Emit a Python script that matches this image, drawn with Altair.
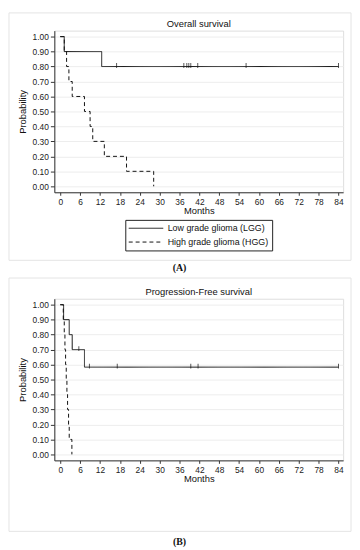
import altair as alt
import pandas as pd

# ---------------- data ----------------
groups = ["Low grade glioma (LGG)", "High grade glioma (HGG)"]

# (A) Overall survival
os_lgg_months = [0, 1.2, 12.5, 84]
os_lgg_surv = [1.0, 0.9, 0.8, 0.8]
os_lgg_cens_months = [17.0, 37.3, 38.2, 38.8, 39.4, 41.5, 56.1, 84.0]
os_lgg_cens_surv = [0.8, 0.8, 0.8, 0.8, 0.8, 0.8, 0.8, 0.8]
os_hgg_months = [0, 1.2, 1.9, 2.6, 3.6, 7.3, 9.0, 9.8, 13.3, 20.0, 28.2]
os_hgg_surv = [1.0, 0.9, 0.8, 0.7, 0.6, 0.5, 0.4, 0.3, 0.2, 0.1, 0.0]

# (B) Progression-free survival
pfs_lgg_months = [0, 1.0, 2.7, 3.6, 7.3, 84]
pfs_lgg_surv = [1.0, 0.9, 0.8, 0.7, 0.583, 0.583]
pfs_lgg_cens_months = [5.6, 8.8, 17.2, 39.4, 41.6, 84.0]
pfs_lgg_cens_surv = [0.7, 0.583, 0.583, 0.583, 0.583, 0.583]
pfs_hgg_months = [0, 0.9, 1.2, 1.4, 1.6, 1.8, 2.0, 2.2, 2.5, 2.7, 3.5]
pfs_hgg_surv = [1.0, 0.9, 0.8, 0.7, 0.6, 0.5, 0.4, 0.3, 0.2, 0.1, 0.0]

x_ticks = list(range(0, 85, 6))
y_ticks = [round(i / 10, 1) for i in range(0, 11)]

FONT = "Liberation Sans"
W, H = 293, 164


def curves(lgg_m, lgg_s, hgg_m, hgg_s):
    a = pd.DataFrame({"Months": lgg_m, "Probability": lgg_s, "group": groups[0]})
    b = pd.DataFrame({"Months": hgg_m, "Probability": hgg_s, "group": groups[1]})
    return pd.concat([a, b], ignore_index=True)


def panel(title, letter, lgg_m, lgg_s, cm, cs, hgg_m, hgg_s, leg_y, letter_y,
          frame_y, frame_y2):
    df = curves(lgg_m, lgg_s, hgg_m, hgg_s)
    cens = pd.DataFrame({"Months": cm, "Probability": cs})

    xs = alt.X("Months:Q",
               scale=alt.Scale(domain=[-1.8, 85.4], nice=False, zero=False),
               axis=alt.Axis(values=x_ticks, grid=False, title="Months",
                             labelOverlap=False, labelFlush=False,
                             labelFont=FONT, labelFontSize=8.5, labelColor="#222",
                             titleFont=FONT, titleFontSize=9.5, titleFontWeight="normal",
                             titleColor="#111", titlePadding=0, labelPadding=2,
                             tickSize=3, tickColor="#333", domainColor="#333"))
    ys = alt.Y("Probability:Q",
               scale=alt.Scale(domain=[-0.04, 1.04], nice=False, zero=False),
               axis=alt.Axis(values=y_ticks, format=".2f", title="Probability",
                             grid=True, gridColor="#ededed",
                             labelOverlap=False, labelFlush=False,
                             labelFont=FONT, labelFontSize=8.5, labelColor="#222",
                             titleFont=FONT, titleFontSize=9.5, titleFontWeight="normal",
                             titleColor="#111", titlePadding=5, labelPadding=2,
                             tickSize=4, tickColor="#333", domainColor="#333"))

    lines = alt.Chart(df).mark_line(interpolate="step-after", color="#111",
                                    strokeWidth=1).encode(
        x=xs, y=ys,
        strokeDash=alt.StrokeDash(
            "group:N",
            scale=alt.Scale(domain=groups, range=[[1, 0], [4, 3]]),
            legend=alt.Legend(title=None, orient="none", legendX=72, legendY=leg_y,
                              direction="vertical", symbolType="M-1,0H6",
                              symbolStrokeColor="#111", symbolStrokeWidth=1,
                              symbolSize=100, labelFont=FONT, labelFontSize=9,
                              labelColor="#111", strokeColor="#222", padding=3,
                              rowPadding=3, labelOffset=29)),
        detail="group:N",
    )
    ticks = alt.Chart(cens).mark_tick(orient="vertical", size=5, thickness=1,
                                      color="#111", yOffset=-1).encode(x=xs, y=ys)

    frame = alt.Chart(pd.DataFrame({"k": [0]})).mark_rect(
        fill=None, stroke="#e4e4e4", strokeWidth=1).encode(
        x=alt.value(-46), x2=alt.value(301), y=alt.value(frame_y), y2=alt.value(frame_y2))
    lab = alt.Chart(pd.DataFrame({"t": [letter]})).mark_text(
        font="Liberation Serif", fontSize=10, fontWeight="bold", color="#111").encode(
        text="t:N", x=alt.value(127), y=alt.value(letter_y))
    ttl = alt.Chart(pd.DataFrame({"t": [title]})).mark_text(
        font=FONT, fontSize=9.5, color="#111").encode(
        text="t:N", x=alt.value(W / 2), y=alt.value(-7))

    return alt.layer(frame, lines, ticks, lab, ttl).properties(width=W, height=H)


a = panel("Overall survival", "(A)", os_lgg_months, os_lgg_surv,
          os_lgg_cens_months, os_lgg_cens_surv, os_hgg_months, os_hgg_surv,
          192, 241, -18, 233)
b = panel("Progression-Free survival", "(B)", pfs_lgg_months, pfs_lgg_surv,
          pfs_lgg_cens_months, pfs_lgg_cens_surv, pfs_hgg_months, pfs_hgg_surv,
          195, 247, -21, 236)

chart = alt.vconcat(a, b, spacing=108, bounds="flush").properties(
    padding=0,
).configure_view(stroke=None).configure(background="white")

chart.save("out.html", embed_options={"renderer": "svg", "actions": False})
